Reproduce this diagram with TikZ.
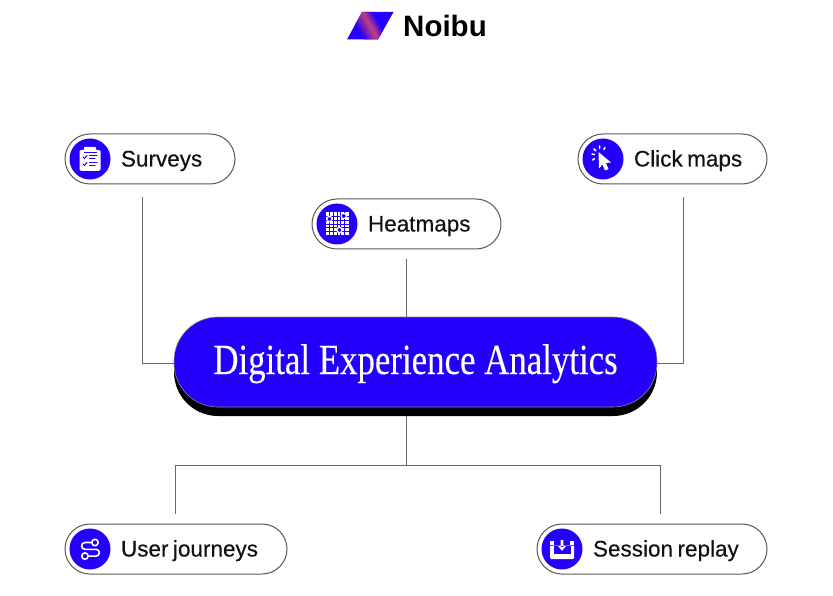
\documentclass[tikz,border=0pt]{standalone}
\usepackage{fontspec}
\setmainfont{Liberation Sans}
\newfontfamily\pillfont[FakeBold=0.25]{Liberation Sans}
\newfontfamily\titlefont[FakeBold=0.25]{Liberation Serif}
\definecolor{nblue}{HTML}{2400FA}
\definecolor{npink}{HTML}{C8407A}
\definecolor{nink}{HTML}{111111}
\newcommand\pilltext[1]{\hspace*{56pt}\rule[-6pt]{0pt}{27pt}\spaceskip=4.5pt #1}
\tikzset{
  pill/.style={draw=black!65,line width=1pt,fill=white,rounded corners=25pt,inner sep=0pt,minimum height=50pt,align=left,font=\pillfont\fontsize{22.5}{24}\selectfont,text=nink},
  iconball/.style={circle,fill=nblue,minimum size=41pt,inner sep=0pt},
  wire/.style={draw=black!60,line width=1pt},
  wht/.style={draw=white,line width=1.5pt,line cap=round,line join=round},
  blu/.style={draw=nblue,line width=1pt,line cap=round}
}
\begin{document}
\begin{tikzpicture}[x=1pt,y=-1pt]
\useasboundingbox[fill=white] (0,0) rectangle (833,596);
% logo
\fill[nblue] (347,39.5) -- (362,12) -- (393.5,12) -- (378,39.5) -- cycle;
\begin{scope}
  \clip (347,39.5) -- (362,12) -- (378,39.5) -- cycle;
  \begin{scope}[transform canvas={shift={(370,25.75)},rotate=30.2}]
    \shade[left color=nblue,right color=npink] (-12,-40) rectangle (0,40);
  \end{scope}
\end{scope}
\begin{scope}
  \clip (362,12) -- (393.5,12) -- (378,39.5) -- cycle;
  \begin{scope}[transform canvas={shift={(370,25.75)},rotate=30.2}]
    \shade[left color=npink,right color=nblue] (0,-40) rectangle (9,40);
  \end{scope}
\end{scope}
\node[font=\fontsize{29.5}{32}\selectfont\bfseries,text=black,inner sep=0pt] (brand) at (445,25.5) {Noibu};
% centre
\node[rectangle,rounded corners=44pt,minimum width=483pt,minimum height=90pt,inner sep=0pt,fill=black] (mainshadow) at (415.5,371) {};
\node[rectangle,rounded corners=44pt,minimum width=483pt,minimum height=90pt,inner sep=0pt,fill=nblue,draw=black!45,line width=0.6pt,text=white] (main) at (415.5,362)
  {\titlefont\fontsize{43}{46}\selectfont\rule[-10pt]{0pt}{44pt}\scalebox{0.81}[1]{Digital Experience Analytics}};
% pills
\node[pill,text width=170pt] (surveys) at (150,159) {\pilltext{Surveys}};
\node[pill,text width=189pt] (clicks) at (672.5,159) {\pilltext{Click maps}};
\node[pill,text width=189pt] (heat) at (406.5,224) {\pilltext{Heatmaps}};
\node[pill,text width=222pt] (journeys) at (176,549) {\pilltext{User journeys}};
\node[pill,text width=230pt] (replay) at (652,549) {\pilltext{Session replay}};
% connectors
\coordinate (hub) at (406.5,465);
\draw[wire,shorten <=13pt] ([xshift=-8pt]surveys.south) |- ([yshift=-1pt]main.west);
\draw[wire,shorten <=13pt] ([xshift=10.5pt]clicks.south) |- ([yshift=-1pt]main.east);
\draw[wire,shorten <=10pt] (heat.south) -- (heat.south |- main.north);
\draw[wire] (hub |- mainshadow.south) -- (hub);
\draw[wire,shorten >=10pt] (hub) -| ([xshift=-1pt]journeys.north);
\draw[wire,shorten >=10pt] (hub) -| ([xshift=8pt]replay.north);
% surveys icon
\node[iconball] (i1) at (90,159) {};
\begin{scope}[shift={(i1.center)}]
  \fill[white,rounded corners=1.5pt] (-10.5,-9) rectangle (10.5,12);
  \fill[white,rounded corners=.8pt] (-6,-12) rectangle (6,-7);
  \draw[nblue,line width=.8pt] (-6.5,-7) -- (6.5,-7);
  \draw[blu] (-7,-2) -- (-5.5,-.5) -- (-3,-3.5);
  \draw[blu] (-7,5) -- (-5.5,6.5) -- (-3,3.5);
  \draw[blu] (-.5,-3) -- (7,-3) (-.5,0) -- (5,0) (-.5,4) -- (7,4) (-.5,7) -- (5,7);
\end{scope}
% click icon
\node[iconball] (i2) at (603,159) {};
\begin{scope}[shift={(i2.center)}]
  \fill[white] (-4.5,-7) -- (8,3.5) -- (3,4) -- (5.5,10) -- (2,11.5) -- (-.5,5.5) -- (-4,9.5) -- cycle;
  \draw[wht] (-11,-5) -- (-8.5,-4.5) (-9,-10) -- (-7.2,-8.2) (-3.5,-13) -- (-3.5,-10.5) (2,-11.5) -- (.8,-9.5) (-10.5,1) -- (-8.5,-.3);
\end{scope}
% heat icon
\node[iconball] (i3) at (337,224) {};
\begin{scope}[shift={(i3.center)}]
  \fill[white] (-11.5,-11.5) rectangle (11.5,11.5);
  \foreach \gridpos in {-7.67,-3.83,0,3.83,7.67}
    \draw[nblue,line width=.7pt] (\gridpos,-11.5) -- (\gridpos,11.5) (-11.5,\gridpos) -- (11.5,\gridpos);
  \foreach \spot in {(-7.5,-5),(6.7,-8),(2.5,6)}
    \draw[white,fill=nblue,line width=1.1pt] \spot circle (2.6);
\end{scope}
% journeys icon
\node[iconball] (i4) at (90,549) {};
\begin{scope}[shift={(i4.center)}]
  \draw[wht,line width=1.6pt] (1.5,-6.5) -- (-5,-6.5) arc[start angle=-90,end angle=-270,radius=3.4] -- (6,.3) arc[start angle=-90,end angle=90,radius=3.4] -- (-1.5,7.1);
  \draw[wht,line width=1.6pt,fill=nblue] (5,-6.5) circle (3.2);
  \draw[wht,line width=1.6pt,fill=nblue] (-5,7.1) circle (3.2);
\end{scope}
% replay icon
\node[iconball] (i5) at (562,549) {};
\begin{scope}[shift={(i5.center)}]
  \fill[white,rounded corners=1pt] (-12,-3.5) rectangle (12,10);
  \fill[nblue] (-8.5,-3.5) rectangle (8.5,5);
  \fill[white] (-12,-8) rectangle (-8,-4.5);
  \fill[white] (8,-8) rectangle (12,-4.5);
  \fill[white] (-1.4,-9) rectangle (1.4,-2) (-4,-3) -- (4,-3) -- (0,1.8) -- cycle;
\end{scope}
\end{tikzpicture}
\end{document}
